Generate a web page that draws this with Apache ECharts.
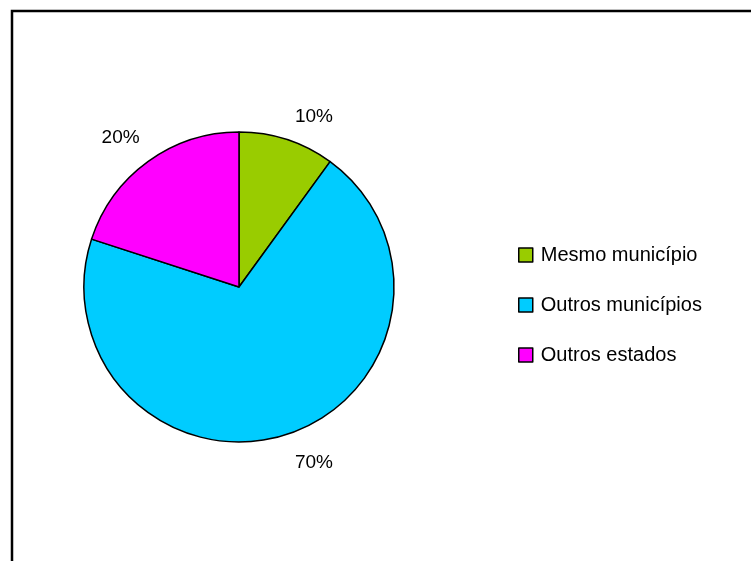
<!DOCTYPE html>
<html>
<head>
<meta charset="utf-8">
<script src="https://cdn.jsdelivr.net/npm/echarts@6/dist/echarts.min.js"></script>
<style>
  html, body { margin: 0; padding: 0; background: #fff; }
  #chart { width: 751px; height: 561px; }
</style>
</head>
<body>
<div id="chart"></div>
<script>
// data
const categories = ['Mesmo município', 'Outros municípios', 'Outros estados']
const shares = [10, 70, 20]
const colors = ['#99CC00', '#00CCFF', '#FF00FF']

const chart = echarts.init(document.getElementById('chart'))

// small nudges so the labels sit where Excel put them
const labelNudge = [{ dx: 0, dy: 2 }, { dx: 0, dy: 4 }, { dx: 7, dy: -3 }]

chart.setOption({
  animation: false,
  textStyle: { fontFamily: 'Liberation Sans, Arial, sans-serif' },
  graphic: [{
    type: 'rect',
    shape: { x: 12, y: 11, width: 800, height: 700 },
    style: { fill: 'none', stroke: '#000', lineWidth: 2.5 }
  }],
  legend: {
    orient: 'vertical',
    left: 513,
    top: 240,
    itemWidth: 14,
    itemHeight: 14,
    itemGap: 30,
    icon: 'rect',
    itemStyle: { borderColor: '#000', borderWidth: 1.5 },
    textStyle: { color: '#000', fontSize: 20, padding: [0, 0, 0, 3] },
    data: categories
  },
  series: [{
    type: 'pie',
    center: [239, 287],
    radius: 155,
    startAngle: 90,
    clockwise: true,
    avoidLabelOverlap: false,
    itemStyle: { borderColor: '#000', borderWidth: 1.5 },
    label: {
      show: true,
      position: 'outside',
      formatter: '{d}%',
      color: '#000',
      fontSize: 19,
      distanceToLabelLine: 0
    },
    labelLine: { show: false, length: 26, length2: 0 },
    labelLayout: function (p) {
      return labelNudge[p.dataIndex]
    },
    emphasis: { disabled: true },
    data: categories.map((name, i) => ({
      name: name,
      value: shares[i],
      itemStyle: { color: colors[i] }
    }))
  }]
})
</script>
</body>
</html>
